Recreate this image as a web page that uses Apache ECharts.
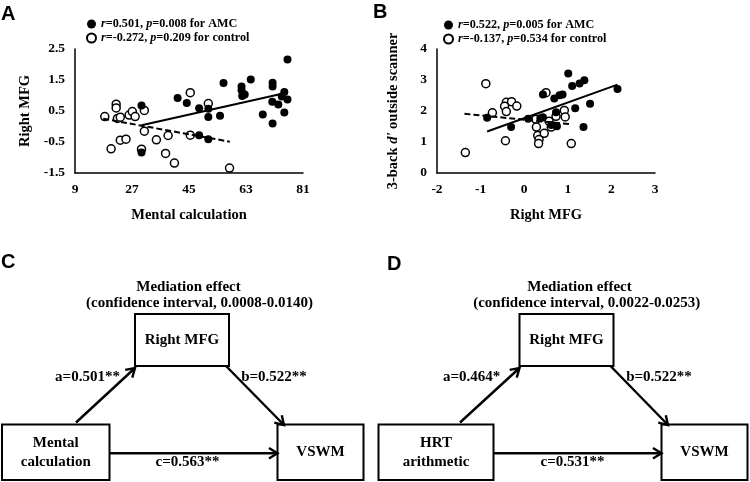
<!DOCTYPE html>
<html><head><meta charset="utf-8">
<script src="https://cdn.jsdelivr.net/npm/echarts@6/dist/echarts.min.js"></script>
<style>html,body{margin:0;padding:0;background:#fff}#c{width:750px;height:482px}</style>
</head><body><div id="c"></div>
<script>
// ---------- Panel A data (Mental calculation vs Right MFG) ----------
const aAmcX = [30.0,30.0,41.4,44.3,48.2,48.2,51.1,51.1,51.1,54.8,55.9,61.6,61.6,61.8,62.6,64.5,68.3,71.4,71.4,71.3,71.4,73.2,74.3,75.1,75.1,76.1,76.1];
const aAmcY = [0.68,-0.84,0.92,0.76,0.59,-0.28,0.57,0.31,-0.41,0.35,1.40,1.29,1.17,0.98,1.03,1.52,0.39,1.41,1.29,0.80,0.10,0.71,0.97,1.11,0.45,0.87,2.16];
const aCtrlX = [18.4,20.4,22.0,22.0,22.4,23.3,23.3,25.1,26.1,27.1,28.0,30.0,30.9,30.9,34.7,37.6,38.4,40.4,45.4,45.4,51.1,57.8];
const aCtrlY = [0.32,-0.72,0.72,0.60,0.26,0.30,-0.44,-0.41,0.37,0.48,0.32,-0.73,0.52,-0.15,-0.43,-0.87,-0.29,-1.18,1.09,-0.28,0.74,-1.34];
const aFitAmc = [[30.0,0.04],[75.8,1.09]];
const aFitCtrl = [[17.9,0.25],[57.9,-0.49]];
const aXTicks = [9,27,45,63,81];
const aYTicks = [-1.5,-0.5,0.5,1.5,2.5];
const aStatR = ['0.501','-0.272'];
const aStatP = ['0.008','0.209'];

// ---------- Panel B data (Right MFG vs 3-back d') ----------
const bAmcX = [-0.85,-0.30,0.09,0.37,0.43,0.43,0.69,0.81,0.88,0.73,0.75,1.01,1.10,1.27,1.38,1.17,1.51,1.36,2.14,0.62];
const bAmcY = [1.78,1.48,1.75,1.77,1.80,2.53,2.40,2.51,2.53,1.96,1.51,3.21,2.81,2.89,2.99,2.09,2.23,1.48,2.71,1.55];
const bCtrlX = [-1.35,-0.88,-0.73,-0.41,-0.29,-0.45,-0.41,-0.17,-0.43,0.50,0.27,0.28,0.31,0.34,0.33,0.46,0.57,0.62,0.73,0.92,0.94,1.08];
const bCtrlY = [0.66,2.88,1.94,2.28,2.30,2.15,1.98,2.16,1.04,2.59,1.73,1.48,1.21,1.08,0.95,1.28,1.67,1.48,1.83,2.02,1.81,0.95];
const bFitAmc = [[-0.85,1.34],[2.14,2.85]];
const bFitCtrl = [[-1.37,1.91],[1.09,1.57]];
const bStatR = ['0.522','-0.137'];
const bStatP = ['0.005','0.534'];

// ---------- Panels C / D (mediation models) ----------
const cNodes = ['Mental\ncalculation','Right MFG','VSWM'];
const cPaths = ['a=0.501**','b=0.522**','c=0.563**'];
const cCI = '(confidence interval, 0.0008-0.0140)';
const dNodes = ['HRT\narithmetic','Right MFG','VSWM'];
const dPaths = ['a=0.464*','b=0.522**','c=0.531**'];
const dCI = '(confidence interval, 0.0022-0.0253)';

const SERIF = '"Liberation Serif","Times New Roman",serif';
const SANS = '"Liberation Sans",Arial,sans-serif';
const zip = (xs, ys) => xs.map((x, i) => [x, ys[i]]);

const chart = echarts.init(document.getElementById('c'));

function axisCommon() {
  return {
    axisLine: {show: true, onZero: false, lineStyle: {color: '#000', width: 1.5}},
    axisTick: {show: false},
    splitLine: {show: false},
    axisLabel: {fontFamily: SERIF, fontWeight: 'bold', fontSize: 13.5, color: '#000', margin: 10},
    nameLocation: 'middle',
    nameTextStyle: {fontFamily: SERIF, fontWeight: 'bold', fontSize: 14.5, color: '#000'}
  };
}
const richI = {fontFamily: SERIF, fontWeight: 'bold', fontStyle: 'italic', fontSize: 12.2, color: '#000'};
const richN = {fontFamily: SERIF, fontWeight: 'bold', fontSize: 12.2, color: '#000'};
function legendFmt(rArr, pArr, names) {
  return function (name) {
    const i = names.indexOf(name);
    const grp = i === 0 ? 'AMC' : 'control';
    return '{i|r}{n|=' + rArr[i] + ', }{i|p}{n|=' + pArr[i] + ' for ' + grp + '}';
  };
}

const xA = Object.assign(axisCommon(), {gridIndex: 0, type: 'value', min: 9, max: 81, name: 'Mental calculation', nameGap: 35});
xA.axisLabel = Object.assign({}, xA.axisLabel, {customValues: aXTicks});
const yA = Object.assign(axisCommon(), {gridIndex: 0, type: 'value', min: -1.5, max: 2.5, name: 'Right MFG', nameGap: 42});
yA.axisLabel = Object.assign({}, yA.axisLabel, {customValues: aYTicks, formatter: v => v.toFixed(1)});
const xB = Object.assign(axisCommon(), {gridIndex: 1, type: 'value', min: -2, max: 3, interval: 1, name: 'Right MFG', nameGap: 35});
const yB = Object.assign(axisCommon(), {gridIndex: 1, type: 'value', min: 0, max: 4, interval: 1,
  name: "3-back {i|d'} outside scanner", nameGap: 36});
yB.nameTextStyle = Object.assign({}, yB.nameTextStyle, {rich: {
  i: {fontFamily: SERIF, fontWeight: 'bold', fontStyle: 'italic', fontSize: 14.5, color: '#000'}
}});

const openStyle = {color: '#fff', borderColor: '#000', borderWidth: 1.5, opacity: 1};
const fillStyle = {color: '#000', borderColor: '#000', borderWidth: 0, opacity: 1};

function fitLine(name, xi, data, dashed) {
  return {name: name, type: 'line', xAxisIndex: xi, yAxisIndex: xi, data: data, symbol: 'none', silent: true,
    z: 3, lineStyle: {color: '#000', width: 2, type: dashed ? [6, 3] : 'solid'}};
}

// ---------- Diagram helpers ----------
const G = [];
function box(x, y, w, h) {
  G.push({type: 'rect', shape: {x: x, y: y, width: w, height: h}, style: {fill: '#fff', stroke: '#000', lineWidth: 2}});
}
function txt(x, y, s, size, align, font, lh) {
  G.push({type: 'text', x: x, y: y, style: {text: s, font: 'bold ' + size + 'px ' + (font || SERIF), fill: '#000',
    align: align || 'center', verticalAlign: 'middle', lineHeight: lh || size}, z: 10});
}
function arrow(x1, y1, x2, y2) {
  G.push({type: 'line', shape: {x1: x1, y1: y1, x2: x2, y2: y2}, style: {stroke: '#000', lineWidth: 2.4}});
  const a = Math.atan2(y2 - y1, x2 - x1), L = 10, ph = 0.55;
  G.push({type: 'polyline', shape: {points: [
    [x2 - L * Math.cos(a - ph), y2 - L * Math.sin(a - ph)], [x2, y2],
    [x2 - L * Math.cos(a + ph), y2 - L * Math.sin(a + ph)]]},
    style: {stroke: '#000', lineWidth: 2.4, fill: null}});
}
function mediation(nodes, paths, ci, cfg) {
  const F = 15;
  txt(cfg.medX, 287, 'Mediation effect', F);
  txt(cfg.ciX, 303.5, ci, F);
  box(cfg.mx, 314, 94, 52);
  txt(cfg.mx + 47, 340, nodes[1], F);
  box(cfg.lx, 424.5, cfg.lw, 55.5);
  txt(cfg.lx + cfg.lw / 2, 452.5, nodes[0], F, 'center', null, 18.5);
  box(cfg.rx, 424.5, 86, 55.5);
  txt(cfg.rx + 43, 452.5, nodes[2], F);
  arrow(cfg.aFrom, 422.5, cfg.mx, 368);
  arrow(cfg.mx + 91, 366, cfg.rx + 6.5, 425);
  arrow(cfg.lx + cfg.lw, 453.3, cfg.rx, 453.3);
  txt(cfg.aX, 377, paths[0], F);
  txt(cfg.bX, 377, paths[1], F);
  txt(cfg.cX, 462, paths[2], F);
}
mediation(cNodes, cPaths, cCI, {medX: 188.5, ciX: 199.5, mx: 135, lx: 2, lw: 107.5, rx: 277.5, aFrom: 76,
  aX: 87.5, bX: 274, cX: 187.5});
mediation(dNodes, dPaths, dCI, {medX: 579.5, ciX: 586.7, mx: 519.5, lx: 378.5, lw: 115, rx: 661.5, aFrom: 460,
  aX: 471.7, bX: 659, cX: 572.5});
txt(1, 14, 'A', 20, 'left', SANS);
txt(373, 12, 'B', 20, 'left', SANS);
txt(1, 262, 'C', 20, 'left', SANS);
txt(387, 264, 'D', 20, 'left', SANS);

const namesA = ['AMC_A', 'control_A'], namesB = ['AMC_B', 'control_B'];
const legendBase = {orient: 'vertical', icon: 'circle', itemWidth: 9, itemHeight: 9, itemGap: 2, padding: 0, selectedMode: false,
  textStyle: {fontFamily: SERIF, fontWeight: 'bold', fontSize: 12.2, color: '#000', lineHeight: 12, rich: {i: richI, n: richN}}};

chart.setOption({
  animation: false,
  backgroundColor: '#fff',
  grid: [
    {left: 75, top: 49, width: 228, height: 124},
    {left: 437, top: 49, width: 218, height: 124}
  ],
  xAxis: [xA, xB],
  yAxis: [yA, yB],
  legend: [
    Object.assign({}, legendBase, {data: namesA, left: 86, top: 18, formatter: legendFmt(aStatR, aStatP, namesA)}),
    Object.assign({}, legendBase, {data: namesB, left: 443, top: 19, formatter: legendFmt(bStatR, bStatP, namesB)})
  ],
  series: [
    {name: 'control_A', type: 'scatter', xAxisIndex: 0, yAxisIndex: 0, data: zip(aCtrlX, aCtrlY), symbol: 'circle', symbolSize: 8, itemStyle: openStyle, z: 2},
    {name: 'AMC_A', type: 'scatter', xAxisIndex: 0, yAxisIndex: 0, data: zip(aAmcX, aAmcY), symbol: 'circle', symbolSize: 8, itemStyle: fillStyle, z: 2},
    fitLine('fitA1', 0, aFitAmc, false),
    fitLine('fitA2', 0, aFitCtrl, true),
    {name: 'control_B', type: 'scatter', xAxisIndex: 1, yAxisIndex: 1, data: zip(bCtrlX, bCtrlY), symbol: 'circle', symbolSize: 8, itemStyle: openStyle, z: 2},
    {name: 'AMC_B', type: 'scatter', xAxisIndex: 1, yAxisIndex: 1, data: zip(bAmcX, bAmcY), symbol: 'circle', symbolSize: 8, itemStyle: fillStyle, z: 2},
    fitLine('fitB1', 1, bFitAmc, false),
    fitLine('fitB2', 1, bFitCtrl, true)
  ],
  graphic: G
});
</script></body></html>
